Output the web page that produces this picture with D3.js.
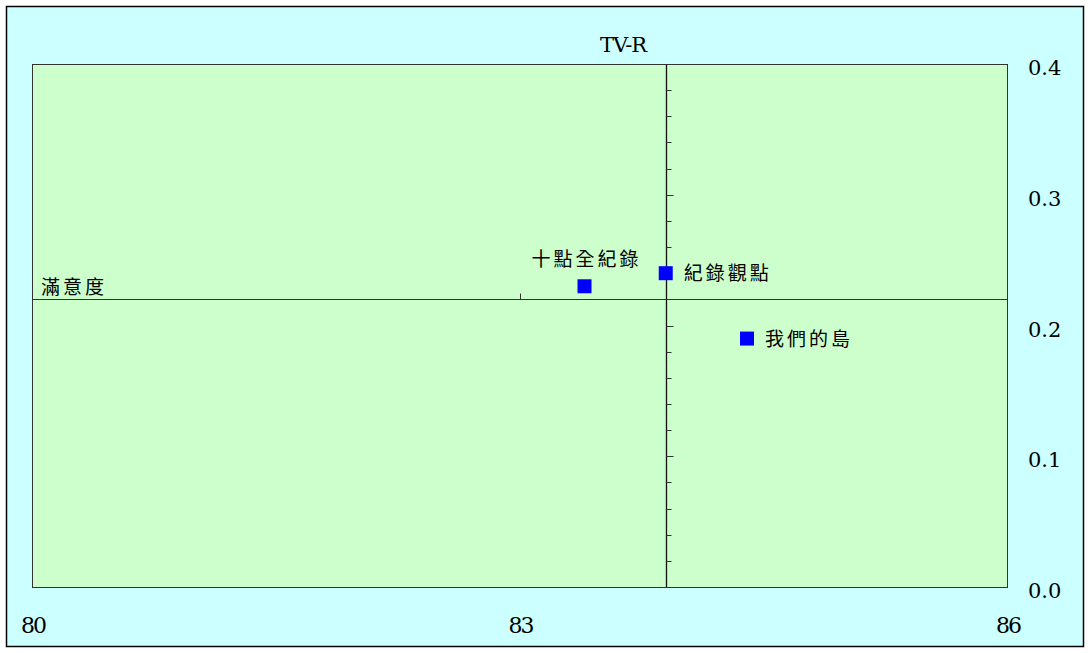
<!DOCTYPE html>
<html>
<head>
<meta charset="utf-8">
<script src="https://cdn.jsdelivr.net/npm/d3@7"></script>
<style>
  body { margin: 0; background: #fff; }
  svg { display: block; }
  .serif { font-family: "DejaVu Serif", serif; }
  .cjk { font-family: "Noto Sans CJK TC", "Noto Sans CJK SC", sans-serif; }
</style>
</head>
<body>
<svg id="chart" width="1090" height="653"></svg>
<script>
// programme names, satisfaction (x) and rating TV-R (y)
const names = ["十點全紀錄", "紀錄觀點", "我們的島"];
const satisfaction = [83.4, 83.9, 84.4];
const tvr = [0.23, 0.24, 0.19];

// where the two axes cross
const crossX = 83.9;
const crossY = 0.22;

const xTicks = [80, 83, 86];
const yTicks = [0.0, 0.1, 0.2, 0.3, 0.4];
const yMinor = d3.range(0, 21).map((i) => i / 50);

const svg = d3.select("#chart");
const W = 1090, H = 653;
const plot = { left: 32, top: 64, right: 1007, bottom: 587 };

const x = d3.scaleLinear().domain([80, 86]).range([plot.left, plot.right]);
const y = d3.scaleLinear().domain([0, 0.4]).range([plot.bottom, plot.top]);

// outer frame
svg.append("rect")
  .attr("x", 6.5).attr("y", 6.5)
  .attr("width", W - 13).attr("height", H - 13)
  .attr("fill", "#ccffff").attr("stroke", "#000").attr("stroke-width", 1.5);

// plot area
svg.append("rect")
  .attr("x", plot.left + 0.5).attr("y", plot.top + 0.5)
  .attr("width", plot.right - plot.left).attr("height", plot.bottom - plot.top)
  .attr("fill", "#ccffcc").attr("stroke", "#333").attr("stroke-width", 1);

// horizontal axis through crossY
const gx = svg.append("g")
  .attr("transform", `translate(0,${Math.round(y(crossY)) + 0.5})`);
gx.append("line")
  .attr("x1", plot.left).attr("x2", plot.right)
  .attr("stroke", "#333").attr("stroke-width", 1);
gx.selectAll(".xt")
  .data(xTicks.filter((d) => d > 80 && d < 86))
  .join("line")
  .attr("x1", (d) => Math.round(x(d)) + 0.5).attr("x2", (d) => Math.round(x(d)) + 0.5)
  .attr("y1", 0).attr("y2", -6)
  .attr("stroke", "#333");

// vertical axis through crossX
const gy = svg.append("g")
  .attr("transform", `translate(${Math.round(x(crossX)) + 0.5},0)`);
gy.append("line")
  .attr("y1", plot.top).attr("y2", plot.bottom)
  .attr("stroke", "#111").attr("stroke-width", 1.3);
gy.selectAll(".yt")
  .data(yMinor)
  .join("line")
  .attr("y1", (d) => Math.round(y(d)) + 0.5).attr("y2", (d) => Math.round(y(d)) + 0.5)
  .attr("x1", 0)
  .attr("x2", (d, i) => (i % 5 === 0 ? 7 : 5))
  .attr("stroke", "#333");

// tick labels
svg.selectAll(".xl")
  .data(xTicks)
  .join("text")
  .attr("class", "serif")
  .attr("x", (d) => x(d) + 1)
  .attr("y", 633)
  .attr("text-anchor", "middle")
  .attr("font-size", 22)
  .attr("letter-spacing", -2)
  .text((d) => d);

svg.selectAll(".yl")
  .data(yTicks)
  .join("text")
  .attr("class", "serif")
  .attr("x", 1028)
  .attr("y", (d) => y(d) + 11)
  .attr("font-size", 21)
  .text((d) => d3.format(".1f")(d));

// axis titles
svg.append("text")
  .attr("class", "serif")
  .attr("x", 623).attr("y", 52)
  .attr("text-anchor", "middle")
  .attr("font-size", 21)
  .attr("letter-spacing", -1)
  .text("TV-R");

svg.append("text")
  .attr("class", "cjk")
  .attr("x", 41).attr("y", 294)
  .attr("font-size", 19)
  .attr("letter-spacing", 3)
  .text("滿意度");

// points
const pts = names.map((n, i) => ({ name: n, x: satisfaction[i], y: tvr[i] }));
const s = 14;
svg.selectAll(".pt")
  .data(pts)
  .join("rect")
  .attr("x", (d) => x(d.x) - s / 2)
  .attr("y", (d) => y(d.y) - s / 2)
  .attr("width", s).attr("height", s)
  .attr("fill", "#0000ff");

// point labels: first one above, others to the right
svg.selectAll(".pl")
  .data(pts)
  .join("text")
  .attr("class", "cjk")
  .attr("x", (d, i) => (i === 0 ? x(d.x) + 2 : x(d.x) + 18))
  .attr("y", (d, i) => (i === 0 ? y(d.y) - 20 : y(d.y) + 7))
  .attr("text-anchor", (d, i) => (i === 0 ? "middle" : "start"))
  .attr("font-size", 19)
  .attr("letter-spacing", 3)
  .text((d) => d.name);
</script>
</body>
</html>
